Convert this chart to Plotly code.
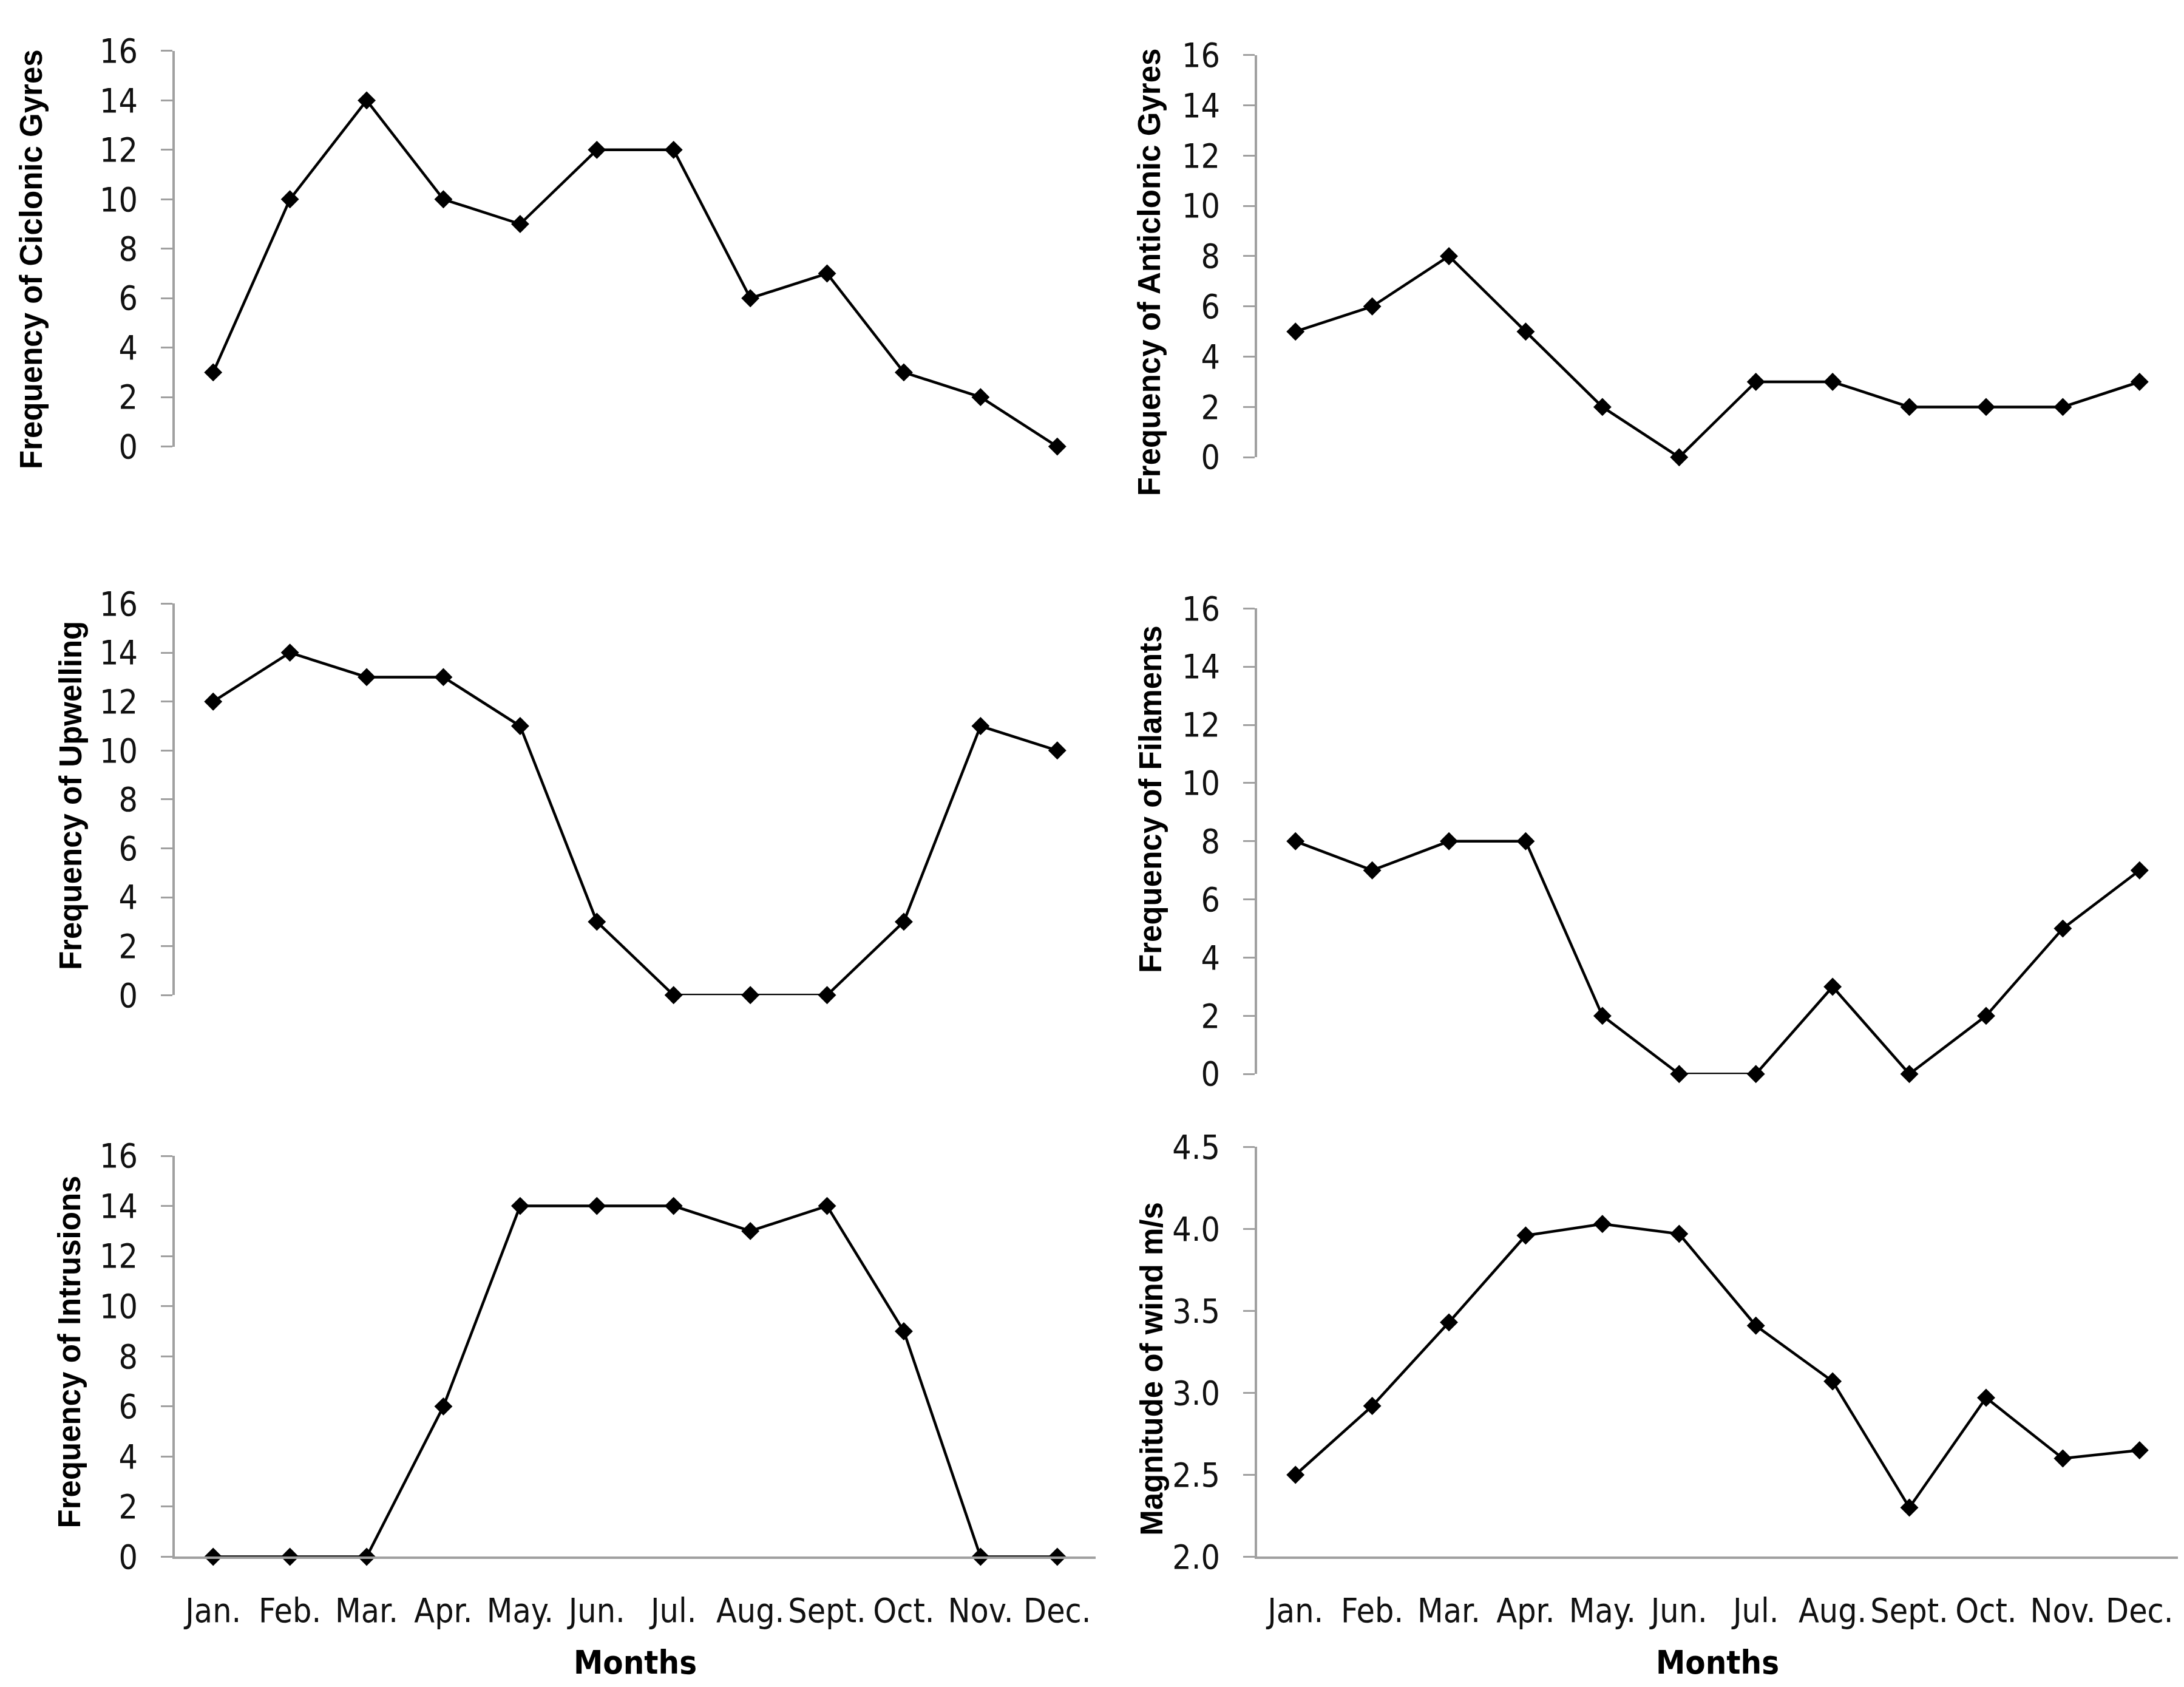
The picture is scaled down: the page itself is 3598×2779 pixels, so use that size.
import plotly.graph_objects as go

# 월별 데이터
months = ['Jan.', 'Feb.', 'Mar.', 'Apr.', 'May.', 'Jun.', 'Jul.', 'Aug.', 'Sept.', 'Oct.', 'Nov.', 'Dec.']

ciclonic = [3, 10, 14, 10, 9, 12, 12, 6, 7, 3, 2, 0]
anticiclonic = [5, 6, 8, 5, 2, 0, 3, 3, 2, 2, 2, 3]
upwelling = [12, 14, 13, 13, 11, 3, 0, 0, 0, 3, 11, 10]
filaments = [8, 7, 8, 8, 2, 0, 0, 3, 0, 2, 5, 7]
intrusions = [0, 0, 0, 6, 14, 14, 14, 13, 14, 9, 0, 0]
wind = [2.50, 2.92, 3.43, 3.96, 4.03, 3.97, 3.41, 3.07, 2.30, 2.97, 2.60, 2.65]

W, H = 3598, 2779

NARROW = 'DejaVu Sans Condensed, Liberation Sans Narrow, Arial Narrow, sans-serif'
TICK_FONT = dict(family=NARROW, size=55, color='#111111')
AXIS_GRAY = '#a0a0a0'


def px_x(v):
    return v / W


def px_y(v):
    return 1 - v / H


# 패널 정의: (데이터, 제목, x영역 px, y영역 px(위, 아래), y범위, 하단 패널 여부, 제목 위치 x, 제목 중심 y)
panels = [
    (ciclonic, 'Frequency of Ciclonic Gyres', (280, 1797), (45, 712), (0, 16), False, 44, 396),
    (anticiclonic, 'Frequency of Anticlonic Gyres', (2063, 3580), (52, 730), (0, 16), False, 1885, 418),
    (upwelling, 'Frequency of Upwelling', (280, 1797), (977, 1637), (0, 16), False, 108, 1301),
    (filaments, 'Frequency of Filaments', (2063, 3580), (985, 1770), (0, 16), False, 1888, 1307),
    (intrusions, 'Frequency of Intrusions', (280, 1797), (1908, 2584), (0, 16), True, 106, 2239),
    (wind, 'Magnitude of wind m/s', (2063, 3580), (1893, 2584), (2.0, 4.5), True, 1890, 2267),
]

fig = go.Figure()
annotations = []

for i, (vals, title, (x0, x1), (ytop, ybot), yr, bottom, tx, ty) in enumerate(panels, start=1):
    xa = 'x' if i == 1 else f'x{i}'
    ya = 'y' if i == 1 else f'y{i}'
    fig.add_trace(go.Scatter(
        x=months,
        y=vals,
        mode='lines+markers',
        line=dict(color='black', width=4.5),
        marker=dict(symbol='diamond', size=23, color='black'),
        xaxis=xa,
        yaxis=ya,
        showlegend=False,
        cliponaxis=False,
    ))

    xkey = 'xaxis' if i == 1 else f'xaxis{i}'
    ykey = 'yaxis' if i == 1 else f'yaxis{i}'
    is_wind = yr[1] < 10
    fig.update_layout({
        xkey: dict(
            domain=[px_x(x0), px_x(x1)],
            anchor=ya,
            type='category',
            categoryorder='array',
            categoryarray=months,
            range=[-0.5, 11.5],
            showgrid=False,
            zeroline=False,
            showline=bottom,
            linecolor=AXIS_GRAY,
            linewidth=4,
            ticks='',
            tickangle=0,
            showticklabels=bottom,
            tickfont=TICK_FONT,
            ticklabelstandoff=38,
        ),
        ykey: dict(
            domain=[px_y(ybot), px_y(ytop)],
            anchor=xa,
            range=list(yr),
            dtick=0.5 if is_wind else 2,
            tick0=yr[0],
            tickformat='.1f' if is_wind else 'd',
            showgrid=False,
            zeroline=False,
            showline=True,
            linecolor=AXIS_GRAY,
            linewidth=4,
            ticks='outside',
            ticklen=19,
            tickwidth=3,
            tickcolor=AXIS_GRAY,
            tickfont=TICK_FONT,
            ticklabelstandoff=27,
        ),
    })

    # y축 제목
    annotations.append(dict(
        text=f'<b>{title}</b>',
        x=px_x(tx), y=px_y(ty),
        xref='paper', yref='paper',
        xanchor='center', yanchor='middle',
        textangle=-90,
        showarrow=False,
        font=dict(family='Liberation Sans, Arial, sans-serif', size=51, color='black'),
    ))

    if bottom:
        annotations.append(dict(
            text='<b>Months</b>',
            x=px_x((x0 + x1) / 2), y=px_y(2762),
            xref='paper', yref='paper',
            xanchor='center', yanchor='middle',
            showarrow=False,
            font=dict(family=NARROW, size=54, color='black'),
        ))

fig.update_layout(
    width=W,
    height=H,
    margin=dict(l=0, r=0, t=0, b=0),
    paper_bgcolor='white',
    plot_bgcolor='white',
    annotations=annotations,
)

fig.write_html('out.html')
